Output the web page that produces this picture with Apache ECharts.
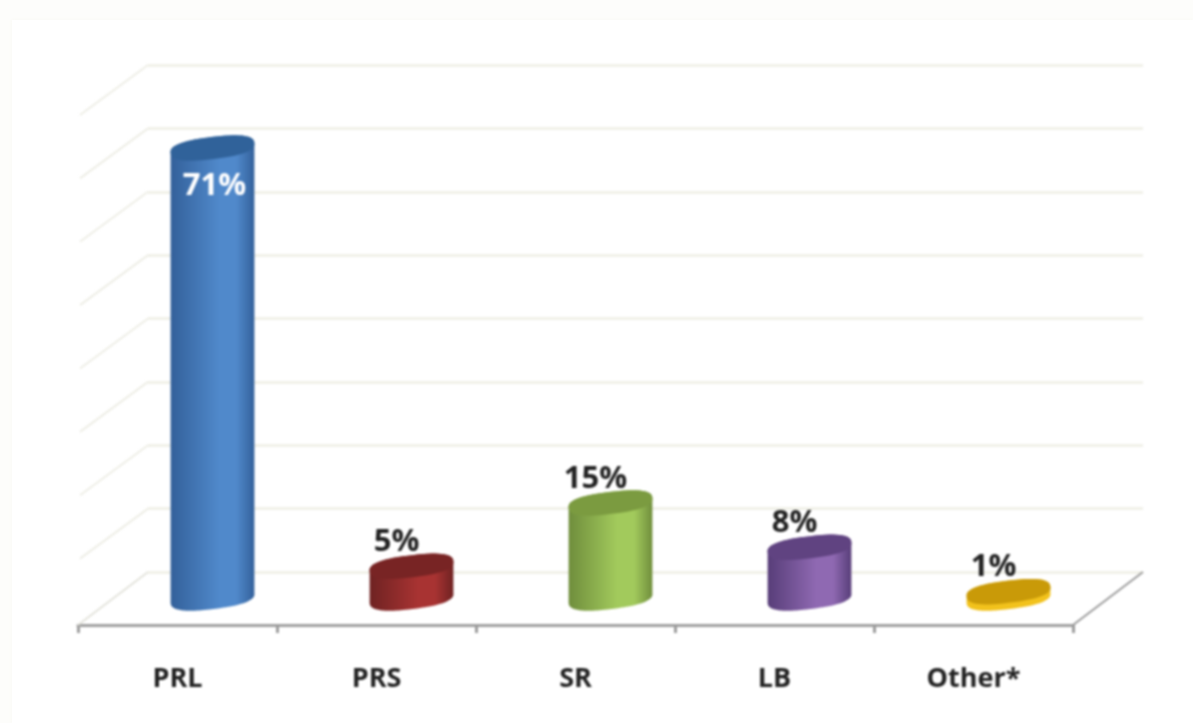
<!DOCTYPE html>
<html>
<head>
<meta charset="utf-8">
<script src="https://cdn.jsdelivr.net/npm/echarts@6/dist/echarts.min.js"></script>
<style>
html,body{margin:0;padding:0;background:#fdfdfb;width:1193px;height:723px;overflow:hidden}
#panel{position:absolute;left:12px;top:20px;width:1181px;height:703px;background:#fff;box-shadow:0 0 4px #f8f8f3}
#chart{position:absolute;left:0;top:0;width:1193px;height:723px;filter:blur(0.8px)}
</style>
</head>
<body>
<div id="panel"></div>
<div id="chart"></div>
<script>
const categories = ['PRL', 'PRS', 'SR', 'LB', 'Other*'];
const values = [71, 5, 15, 8, 1];
const percentLabels = ['71%', '5%', '15%', '8%', '1%'];
const wallTicks = [10, 20, 30, 40, 50, 60, 70, 80];

const bodyDark = ['#33609a', '#6e2222', '#6f8d3c', '#573d78', '#f2c21c'];
const bodyLight = ['#5089cb', '#a83332', '#a2ca5c', '#8f69b2', '#f2c21c'];
const capColor = ['#30629a', '#782424', '#7b9b40', '#604381', '#c99a08'];

const FONT = '"Open Sans","Noto Sans",sans-serif';
const TILT = -7 * Math.PI / 180;
const ROUNDNESS = 0.78;

function tiltedPoint(cx, cy, a, b, t) {
  const c = Math.cos(t), s = Math.sin(t);
  const x = a * Math.sign(c) * Math.pow(Math.abs(c), ROUNDNESS);
  const y = b * Math.sign(s) * Math.pow(Math.abs(s), ROUNDNESS);
  return [cx + x * Math.cos(TILT) - y * Math.sin(TILT), cy + x * Math.sin(TILT) + y * Math.cos(TILT)];
}
function arc(cx, cy, a, b, from, to) {
  const pts = [];
  for (let i = 0; i <= 60; i++) pts.push(tiltedPoint(cx, cy, a, b, from + (to - from) * i / 60));
  return pts;
}

function renderCylinder(params, api) {
  const i = api.value(0);
  const v = api.value(1);
  const top = api.coord([i, v]);
  const base = api.coord([i, 0]);
  const a = api.size([1, 0])[0] * 0.212;
  const b = 11;
  const cx = top[0];
  const grad = new echarts.graphic.LinearGradient(cx - a, 0, cx + a, 0, [
    { offset: 0, color: bodyDark[i] },
    { offset: 0.58, color: bodyLight[i] },
    { offset: 0.78, color: bodyLight[i] },
    { offset: 1, color: bodyDark[i] }
  ], true);
  const outline = arc(cx, base[1], a, b, 0, Math.PI).concat(arc(cx, top[1], a, b, Math.PI, 2 * Math.PI));
  const inside = v > 50;
  return {
    type: 'group',
    children: [
      { type: 'polygon', shape: { points: outline }, style: { fill: grad } },
      { type: 'polygon', shape: { points: arc(cx, top[1], a, b, 0, 2 * Math.PI) }, style: { fill: capColor[i] } },
      {
        type: 'text',
        style: {
          text: percentLabels[i],
          x: inside ? cx + 2 : cx - 15,
          y: inside ? top[1] + 38 : top[1] - 24,
          fill: inside ? '#ffffff' : '#222222',
          font: '700 31px ' + FONT,
          textAlign: 'center',
          textVerticalAlign: 'middle'
        }
      }
    ]
  };
}

function renderWall(params, api) {
  const v = api.value(0);
  const p = api.coord([0, v]);
  if (v === 0) {
    const q = api.coord([1, 0]);
    return {
      type: 'group',
      children: [
        { type: 'line', shape: { x1: p[0], y1: p[1], x2: p[0] - 70, y2: p[1] + 53 }, style: { stroke: '#e4e4dc', lineWidth: 2 } },
        { type: 'line', shape: { x1: q[0], y1: q[1], x2: q[0] - 70, y2: q[1] + 53 }, style: { stroke: '#9c9c9c', lineWidth: 2 } }
      ]
    };
  }
  return { type: 'line', shape: { x1: p[0], y1: p[1], x2: p[0] - 68, y2: p[1] + 50 }, style: { stroke: '#eeeee6', lineWidth: 2 } };
}

const chart = echarts.init(document.getElementById('chart'), null, { renderer: 'canvas' });
chart.setOption({
  backgroundColor: 'transparent',
  animation: false,
  grid: [
    { left: 78, width: 995, top: 118, height: 507 },
    { left: 148, width: 995, top: 65, height: 507 },
    { left: 113, width: 995, top: 91, height: 507 }
  ],
  xAxis: [
    {
      gridIndex: 0, type: 'category', data: categories,
      axisLine: { lineStyle: { color: '#a0a0a0', width: 3 } },
      axisTick: { show: true, length: 8, lineStyle: { color: '#9c9c9c', width: 3 } },
      axisLabel: { color: '#222222', fontFamily: FONT, fontWeight: 700, fontSize: 27, margin: 41 }
    },
    { gridIndex: 1, type: 'value', min: 0, max: 1, show: false },
    { gridIndex: 2, type: 'category', data: categories, show: false }
  ],
  yAxis: [
    { gridIndex: 0, type: 'value', min: 0, max: 80, interval: 10, show: false },
    {
      gridIndex: 1, type: 'value', min: 0, max: 80, interval: 10,
      axisLine: { show: false }, axisTick: { show: false }, axisLabel: { show: false },
      splitLine: { show: true, lineStyle: { color: '#eeeee4', width: 2.5 } }
    },
    { gridIndex: 2, type: 'value', min: 0, max: 80, interval: 10, show: false }
  ],
  series: [
    {
      type: 'custom', xAxisIndex: 1, yAxisIndex: 1, silent: true, z: 1,
      encode: { x: 1, y: 0 },
      data: [0].concat(wallTicks).map(v => [v, 0]),
      renderItem: renderWall
    },
    {
      type: 'custom', xAxisIndex: 2, yAxisIndex: 2, silent: true, z: 5,
      encode: { x: 0, y: 1 },
      data: values.map((v, i) => [i, v]),
      renderItem: renderCylinder
    }
  ]
});
</script>
</body>
</html>
